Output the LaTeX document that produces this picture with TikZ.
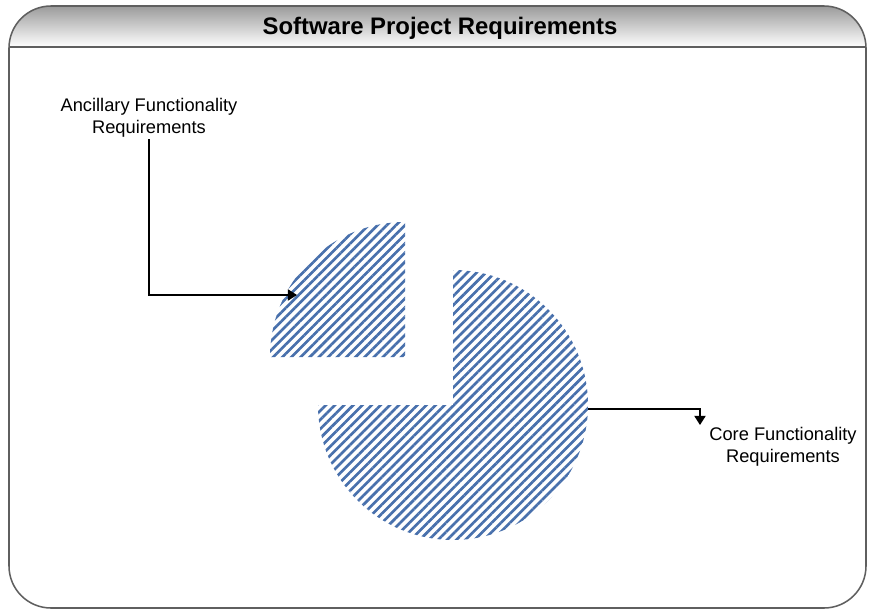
\documentclass[tikz,border=0pt]{standalone}
\usepackage{fontspec}
\setmainfont{Liberation Sans}
\usetikzlibrary{patterns.meta,arrows.meta,calc}
\definecolor{hatchblue}{RGB}{72,112,172}
\definecolor{framegray}{RGB}{95,95,95}
\tikzset{
	hatch/.style={pattern={Lines[angle=45,distance=4.6pt,line width=1.9pt]}, pattern color=hatchblue},
	leader/.style={draw=black, line width=1pt, -{Triangle[length=6.5pt,width=8pt]}},
	label text/.style={align=center, inner sep=1pt, font=\fontsize{13}{16}\selectfont}
}

\begin{document}
\begin{tikzpicture}[x=0.025cm, y=-0.025cm]
	\useasboundingbox (0,0) rectangle (871,612);
	% frame with shaded header
	\begin{scope}
		\clip[rounded corners=1.05cm] (9,6) rectangle (866,608);
		\shade[top color=black!45, bottom color=white] (0,0) rectangle (871,47);
	\end{scope}
	\draw[framegray, line width=1.1pt, rounded corners=1.05cm] (9,6) rectangle (866,608);
	\draw[framegray, line width=1.1pt] (9,47) -- (866,47);
	\node[font=\bfseries\fontsize{17}{20}\selectfont] (title) at (440,28) {Software Project Requirements};
	% pie pieces
	\fill[hatch] (405,357) -- (270,357) arc[start angle=180, end angle=270, radius=135] -- cycle;
	\fill[hatch] (453,405) -- (453,270) arc[start angle=-90, end angle=180, radius=135] -- cycle;
	\coordinate (smalledge) at (297,295);
	\coordinate (bigedge) at (588,409);
	\coordinate (coretip) at ($(bigedge)+(112,16)$);
	% labels
	\node[label text] (ancillary) at (149,118) {Ancillary Functionality\\Requirements};
	\node[label text] (core) at (783,447) {Core Functionality\\Requirements};
	\draw[leader] (ancillary.south) |- (smalledge);
	\draw[leader] (bigedge) -| (coretip);
\end{tikzpicture}
\end{document}
